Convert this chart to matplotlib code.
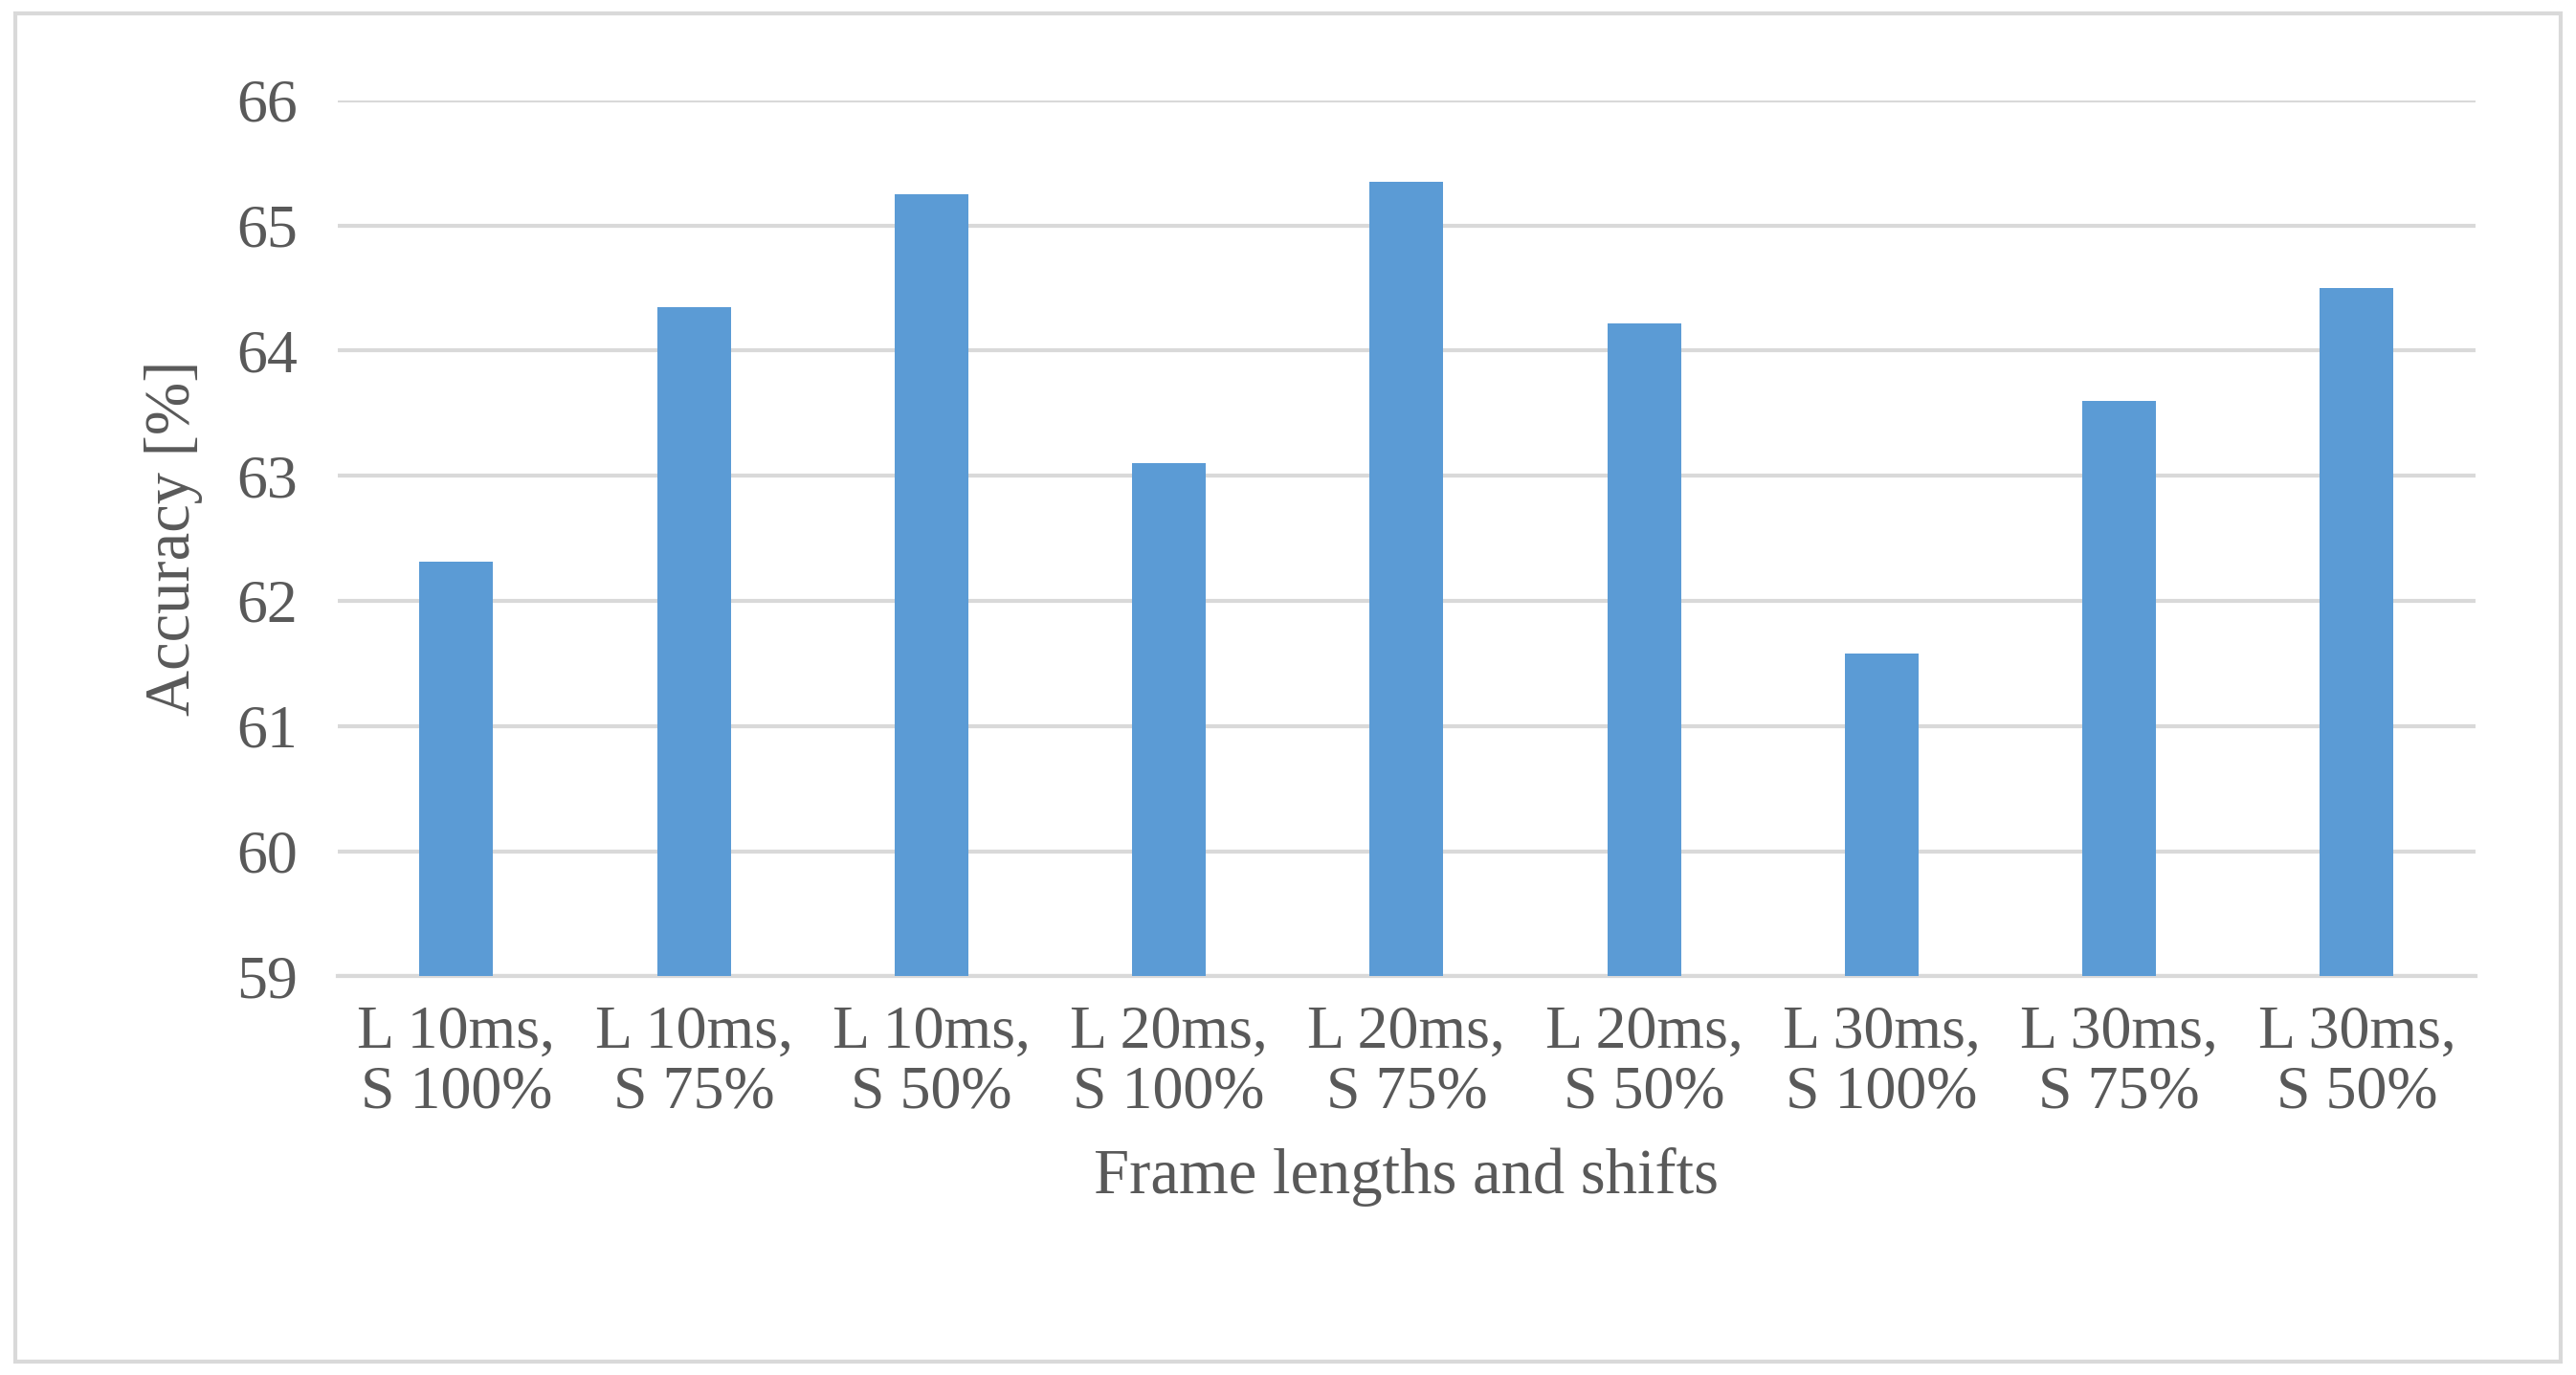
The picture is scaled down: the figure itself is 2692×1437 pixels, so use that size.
import matplotlib.pyplot as plt
from matplotlib.patches import Rectangle

categories = ["L 10ms,\nS 100%", "L 10ms,\nS 75%", "L 10ms,\nS 50%",
              "L 20ms,\nS 100%", "L 20ms,\nS 75%", "L 20ms,\nS 50%",
              "L 30ms,\nS 100%", "L 30ms,\nS 75%", "L 30ms,\nS 50%"]
accuracy = [62.31, 64.35, 65.25, 63.1, 65.35, 64.22, 61.58, 63.6, 64.5]
yticks = [59, 60, 61, 62, 63, 64, 65, 66]

plt.rcParams["font.family"] = ["Liberation Serif", "DejaVu Serif"]

fig = plt.figure(figsize=(26.92, 14.37), dpi=100)
ax = fig.add_axes([0.131, 0.290, 0.830, 0.637])

x = range(len(categories))
ax.bar(x, accuracy, width=0.31, color="#5B9BD5", zorder=3)
ax.set_ylim(59, 66)
ax.set_xlim(-0.5, len(categories) - 0.5)
ax.set_yticks(yticks)
ax.set_xticks(list(x))
ax.set_xticklabels(categories, linespacing=1.1)
ax.tick_params(axis="both", labelsize=46, colors="#595959", length=0)
ax.tick_params(axis="x", pad=22)
ax.tick_params(axis="y", pad=30)
ax.grid(axis="y", color="#D9D9D9", linewidth=3, zorder=0)
for s in ["top", "right", "left"]:
    ax.spines[s].set_visible(False)
ax.spines["bottom"].set_color("#D9D9D9")
ax.spines["bottom"].set_linewidth(3)
ax.set_ylabel("Accuracy [%]", fontsize=48, color="#595959", labelpad=25)
ax.set_xlabel("Frame lengths and shifts", fontsize=48, color="#595959", labelpad=20)

fig.patches.append(Rectangle((0.006, 0.01), 0.988, 0.98, transform=fig.transFigure,
                             fill=False, edgecolor="#D9D9D9", linewidth=3))

fig.savefig("out.png", dpi=100)
